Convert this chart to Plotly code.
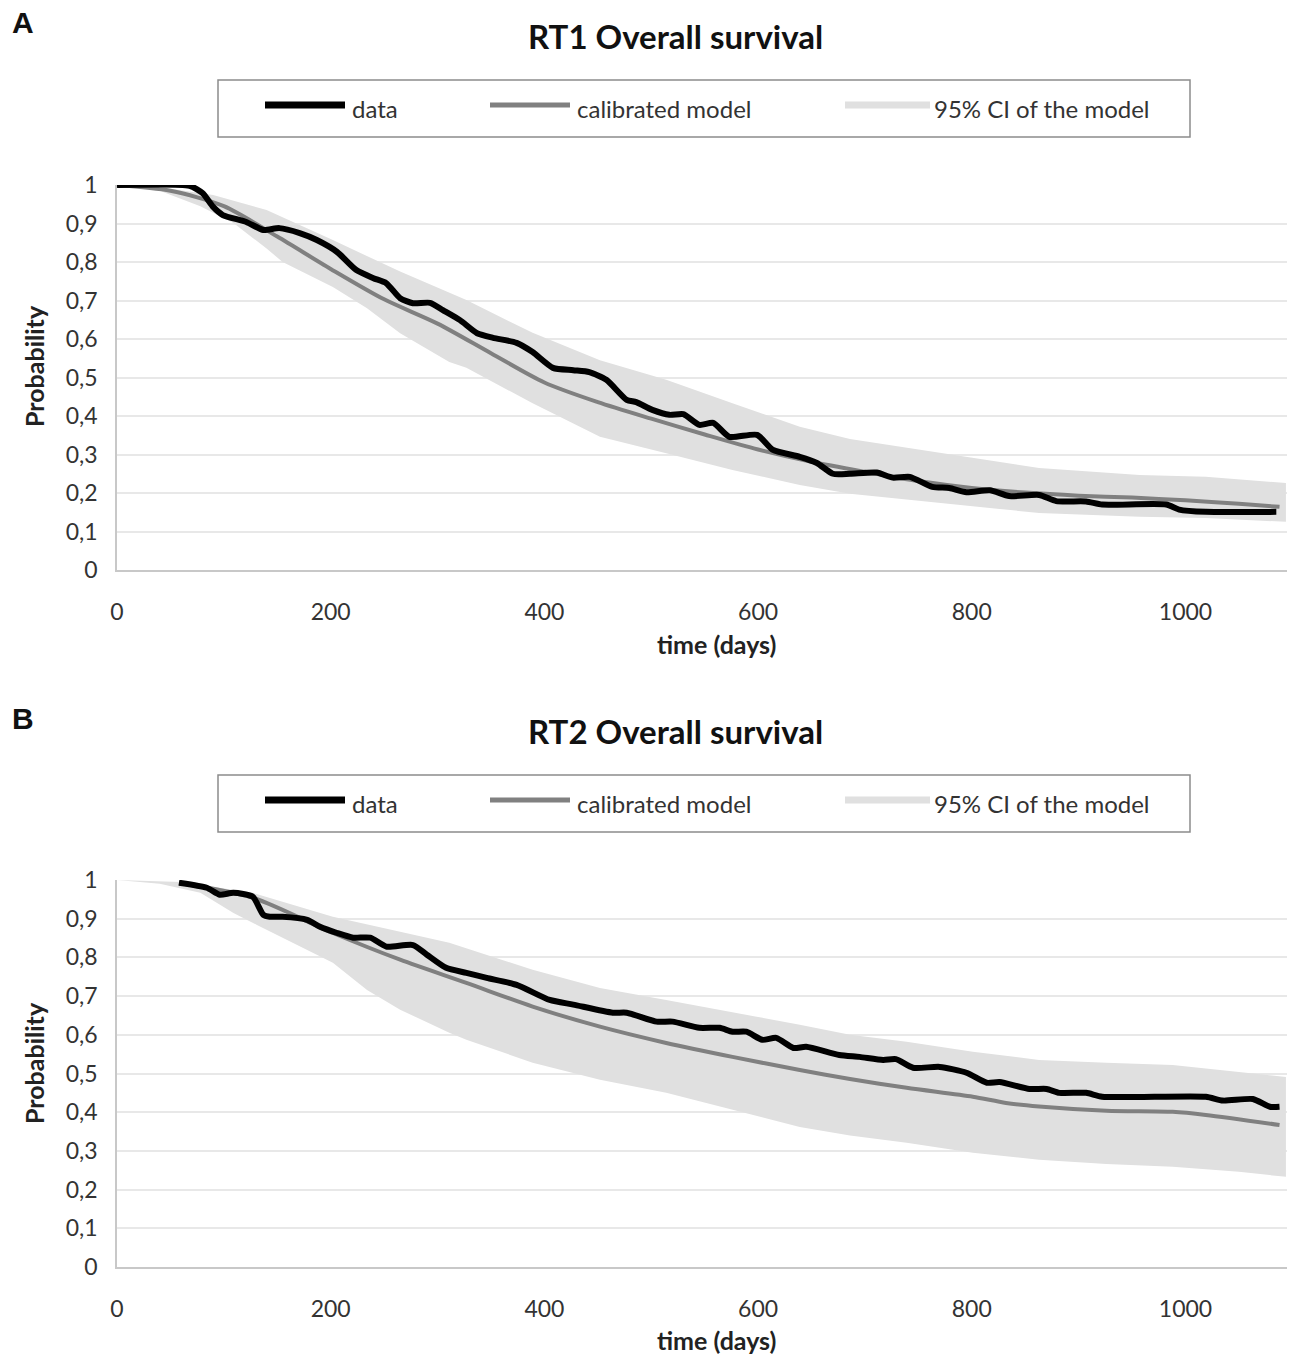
import plotly.graph_objects as go

# ---------------- data ----------------
# RT1 (panel A): observed survival, calibrated model, 95% CI of the model
rt1_days_obs = [0, 68, 80, 90, 99, 121, 137, 152, 171, 187, 206, 224, 240, 252, 265, 277, 293,
                305, 321, 337, 352, 374, 389, 408, 427, 442, 458, 477, 486, 501, 517, 530, 545,
                558, 573, 599, 614, 639, 655, 670, 686, 711, 726, 742, 763, 779, 795, 817, 835,
                863, 879, 907, 922, 982, 994, 1019, 1085]
rt1_obs = [1.0, 0.998, 0.979, 0.943, 0.922, 0.904, 0.883, 0.888, 0.875, 0.857, 0.826, 0.779,
           0.758, 0.745, 0.706, 0.693, 0.694, 0.675, 0.649, 0.615, 0.603, 0.590, 0.566, 0.525,
           0.519, 0.514, 0.494, 0.442, 0.436, 0.416, 0.403, 0.405, 0.377, 0.382, 0.346, 0.351,
           0.312, 0.294, 0.278, 0.250, 0.250, 0.253, 0.240, 0.242, 0.216, 0.213, 0.202, 0.207,
           0.192, 0.195, 0.179, 0.178, 0.170, 0.170, 0.157, 0.151, 0.151]

rt1_days_model = [0, 50, 100, 150, 200, 250, 300, 350, 400, 450, 500, 550, 600, 650, 700, 750,
                  800, 850, 900, 950, 1000, 1050, 1088]
rt1_model = [1.0, 0.985, 0.945, 0.866, 0.782, 0.703, 0.640, 0.563, 0.487, 0.436, 0.393, 0.352,
             0.313, 0.281, 0.255, 0.231, 0.213, 0.201, 0.193, 0.188, 0.181, 0.172, 0.164]

rt1_days_ci_hi = [0, 50, 90, 140, 202, 265, 327, 389, 452, 514, 576, 639, 686, 770, 863, 957,
                  1019, 1094]
rt1_ci_hi = [1.0, 0.99, 0.974, 0.935, 0.857, 0.775, 0.701, 0.616, 0.545, 0.494, 0.433, 0.372,
             0.340, 0.304, 0.265, 0.247, 0.242, 0.226]
rt1_days_ci_lo = [0, 40, 78, 109, 140, 155, 202, 234, 265, 311, 327, 389, 452, 514, 576, 639,
                  686, 770, 863, 957, 1019, 1094]
rt1_ci_lo = [1.0, 0.985, 0.945, 0.901, 0.835, 0.800, 0.735, 0.680, 0.615, 0.540, 0.525, 0.433,
             0.346, 0.303, 0.260, 0.221, 0.198, 0.174, 0.148, 0.138, 0.135, 0.125]

# RT2 (panel B)
rt2_days_obs = [58, 84, 96, 109, 127, 137, 143, 155, 178, 190, 206, 221, 237, 252, 277, 290, 308,
                327, 346, 374, 405, 427, 464, 477, 505, 520, 545, 564, 576, 589, 604, 617, 633,
                645, 676, 695, 717, 729, 745, 770, 795, 814, 826, 854, 870, 882, 907, 922, 1019,
                1035, 1063, 1079, 1088]
rt2_obs = [0.993, 0.980, 0.962, 0.967, 0.957, 0.910, 0.905, 0.905, 0.897, 0.879, 0.863, 0.851,
           0.851, 0.828, 0.832, 0.807, 0.773, 0.760, 0.747, 0.729, 0.690, 0.678, 0.657, 0.657,
           0.634, 0.634, 0.618, 0.618, 0.608, 0.608, 0.587, 0.592, 0.566, 0.569, 0.548, 0.543,
           0.535, 0.537, 0.515, 0.517, 0.502, 0.476, 0.478, 0.460, 0.460, 0.450, 0.450, 0.440,
           0.440, 0.430, 0.434, 0.414, 0.414]

rt2_days_model = [58, 127, 202, 265, 327, 389, 452, 514, 576, 639, 686, 739, 801, 832, 863, 926,
                  988, 1019, 1088]
rt2_model = [0.992, 0.954, 0.863, 0.794, 0.734, 0.673, 0.621, 0.579, 0.543, 0.509, 0.486, 0.463,
             0.440, 0.424, 0.415, 0.404, 0.401, 0.393, 0.367]

rt2_days_ci_hi = [0, 60, 127, 202, 265, 311, 389, 452, 514, 576, 639, 686, 739, 801, 863, 926,
                  988, 1050, 1094]
rt2_ci_hi = [1.0, 0.995, 0.967, 0.905, 0.866, 0.838, 0.768, 0.721, 0.690, 0.659, 0.626, 0.600,
             0.582, 0.556, 0.535, 0.528, 0.522, 0.504, 0.491]
rt2_days_ci_lo = [0, 40, 78, 109, 131, 171, 202, 234, 265, 311, 327, 389, 452, 514, 576, 639,
                  686, 739, 801, 863, 926, 988, 1050, 1094]
rt2_ci_lo = [1.0, 0.990, 0.967, 0.915, 0.884, 0.828, 0.786, 0.716, 0.665, 0.605, 0.587, 0.528,
             0.484, 0.450, 0.406, 0.362, 0.340, 0.321, 0.295, 0.277, 0.266, 0.259, 0.246, 0.233]

panel_titles = ["RT1 Overall survival", "RT2 Overall survival"]
panel_letters = ["A", "B"]
legend_labels = ["data", "calibrated model", "95% CI of the model"]
x_title = "time (days)"
y_title = "Probability"

# ---------------- styling ----------------
W, H = 1293, 1357
FONT = "Lato"
C_DATA = "#000000"
C_MODEL = "#808080"
C_BAND = "#e0e0e0"
C_GRID = "#e8e8e8"
C_AXIS = "#c8c8c8"
C_TEXT = "#333333"


def px(x):
    return x / W


def py(y):
    return 1 - y / H


fig = go.Figure()

panels = [
    dict(xa="x", ya="y", top=185, bottom=570,
         obs=(rt1_days_obs, rt1_obs), model=(rt1_days_model, rt1_model),
         hi=(rt1_days_ci_hi, rt1_ci_hi), lo=(rt1_days_ci_lo, rt1_ci_lo),
         title_y=36, letter_y=22, legend_top=80, legend_bottom=137,
         xtitle_y=644, ytitle_y=366),
    dict(xa="x2", ya="y2", top=880, bottom=1267,
         obs=(rt2_days_obs, rt2_obs), model=(rt2_days_model, rt2_model),
         hi=(rt2_days_ci_hi, rt2_ci_hi), lo=(rt2_days_ci_lo, rt2_ci_lo),
         title_y=731, letter_y=718, legend_top=775, legend_bottom=832,
         xtitle_y=1340, ytitle_y=1063),
]

for p in panels:
    hi_t, hi_v = p["hi"]
    lo_t, lo_v = p["lo"]
    # CI band as one closed polygon: upper edge forward, lower edge back
    fig.add_trace(go.Scatter(
        x=list(hi_t) + list(lo_t[::-1]), y=list(hi_v) + list(lo_v[::-1]),
        fill="toself", fillcolor=C_BAND, line=dict(width=0, color=C_BAND),
        mode="lines", name=legend_labels[2], showlegend=False, hoverinfo="skip",
        xaxis=p["xa"], yaxis=p["ya"]))
    fig.add_trace(go.Scatter(
        x=p["model"][0], y=p["model"][1], mode="lines",
        line=dict(color=C_MODEL, width=4, shape="spline", smoothing=0.8),
        name=legend_labels[1], showlegend=False, xaxis=p["xa"], yaxis=p["ya"]))
    fig.add_trace(go.Scatter(
        x=p["obs"][0], y=p["obs"][1], mode="lines",
        line=dict(color=C_DATA, width=6, shape="spline", smoothing=0.6),
        name=legend_labels[0], showlegend=False, xaxis=p["xa"], yaxis=p["ya"]))

axis_common_x = dict(range=[0, 1095], dtick=200, tick0=0, showgrid=False, automargin=False,
                     showline=True, linecolor=C_AXIS, linewidth=1.5, zeroline=False,
                     ticks="", ticklabelstandoff=21,
                     tickfont=dict(family=FONT, size=23, color=C_TEXT))
axis_common_y = dict(range=[0, 1], dtick=0.1, tick0=0, showgrid=True, gridcolor=C_GRID,
                     gridwidth=1.5, showline=True, linecolor=C_AXIS, linewidth=1.5,
                     automargin=False, zeroline=False, ticks="", ticklabelstandoff=13,
                     tickfont=dict(family=FONT, size=23, color=C_TEXT))

fig.update_layout(
    width=W, height=H, margin=dict(l=0, r=0, t=0, b=0, pad=0, autoexpand=False),
    paper_bgcolor="white", plot_bgcolor="white", separators=", ",
    font=dict(family=FONT, color=C_TEXT),
    xaxis=dict(domain=[px(117), px(1287)], anchor="y", **axis_common_x),
    yaxis=dict(domain=[py(570), py(185)], anchor="x", **axis_common_y),
    xaxis2=dict(domain=[px(117), px(1287)], anchor="y2", **axis_common_x),
    yaxis2=dict(domain=[py(1267), py(880)], anchor="x2", **axis_common_y),
)

shapes = []
annotations = []
for i, p in enumerate(panels):
    annotations.append(dict(
        x=px(675), y=py(p["title_y"]), xref="paper", yref="paper", showarrow=False,
        text="<b>%s</b>" % panel_titles[i], xanchor="center", yanchor="middle",
        font=dict(family=FONT, size=33, color="#111111")))
    annotations.append(dict(
        x=px(10), y=py(p["letter_y"]), xref="paper", yref="paper", showarrow=False,
        text="<b>%s</b>" % panel_letters[i], xanchor="left", yanchor="middle",
        font=dict(family="Liberation Sans", size=30, color="#111111")))
    # axis titles
    annotations.append(dict(
        x=px(716), y=py(p["xtitle_y"]), xref="paper", yref="paper", showarrow=False,
        text="<b>%s</b>" % x_title, xanchor="center", yanchor="middle",
        font=dict(family=FONT, size=25, color="#222222")))
    annotations.append(dict(
        x=px(34), y=py(p["ytitle_y"]), xref="paper", yref="paper", showarrow=False,
        text="<b>%s</b>" % y_title, textangle=-90, xanchor="center", yanchor="middle",
        font=dict(family=FONT, size=25, color="#222222")))

    # legend box with three keyed entries
    lt, lb = p["legend_top"], p["legend_bottom"]
    shapes.append(dict(type="rect", xref="paper", yref="paper",
                       x0=px(218), x1=px(1190), y0=py(lb), y1=py(lt),
                       line=dict(color="#8c8c8c", width=1.5), fillcolor="white"))
    ly = lt + 25
    keys = [(265, 345, C_DATA, 7), (490, 570, C_MODEL, 5), (845, 930, C_BAND, 7)]
    text_x = [350, 575, 932]
    for (x0, x1, col, wdt), tx, lab in zip(keys, text_x, legend_labels):
        shapes.append(dict(type="line", xref="paper", yref="paper",
                           x0=px(x0), x1=px(x1), y0=py(ly), y1=py(ly),
                           line=dict(color=col, width=wdt)))
        annotations.append(dict(
            x=px(tx), y=py(ly + 3), xref="paper", yref="paper", showarrow=False,
            text=lab, xanchor="left", yanchor="middle",
            font=dict(family=FONT, size=24, color=C_TEXT)))

fig.update_layout(shapes=shapes, annotations=annotations)

fig.write_html("out.html")
